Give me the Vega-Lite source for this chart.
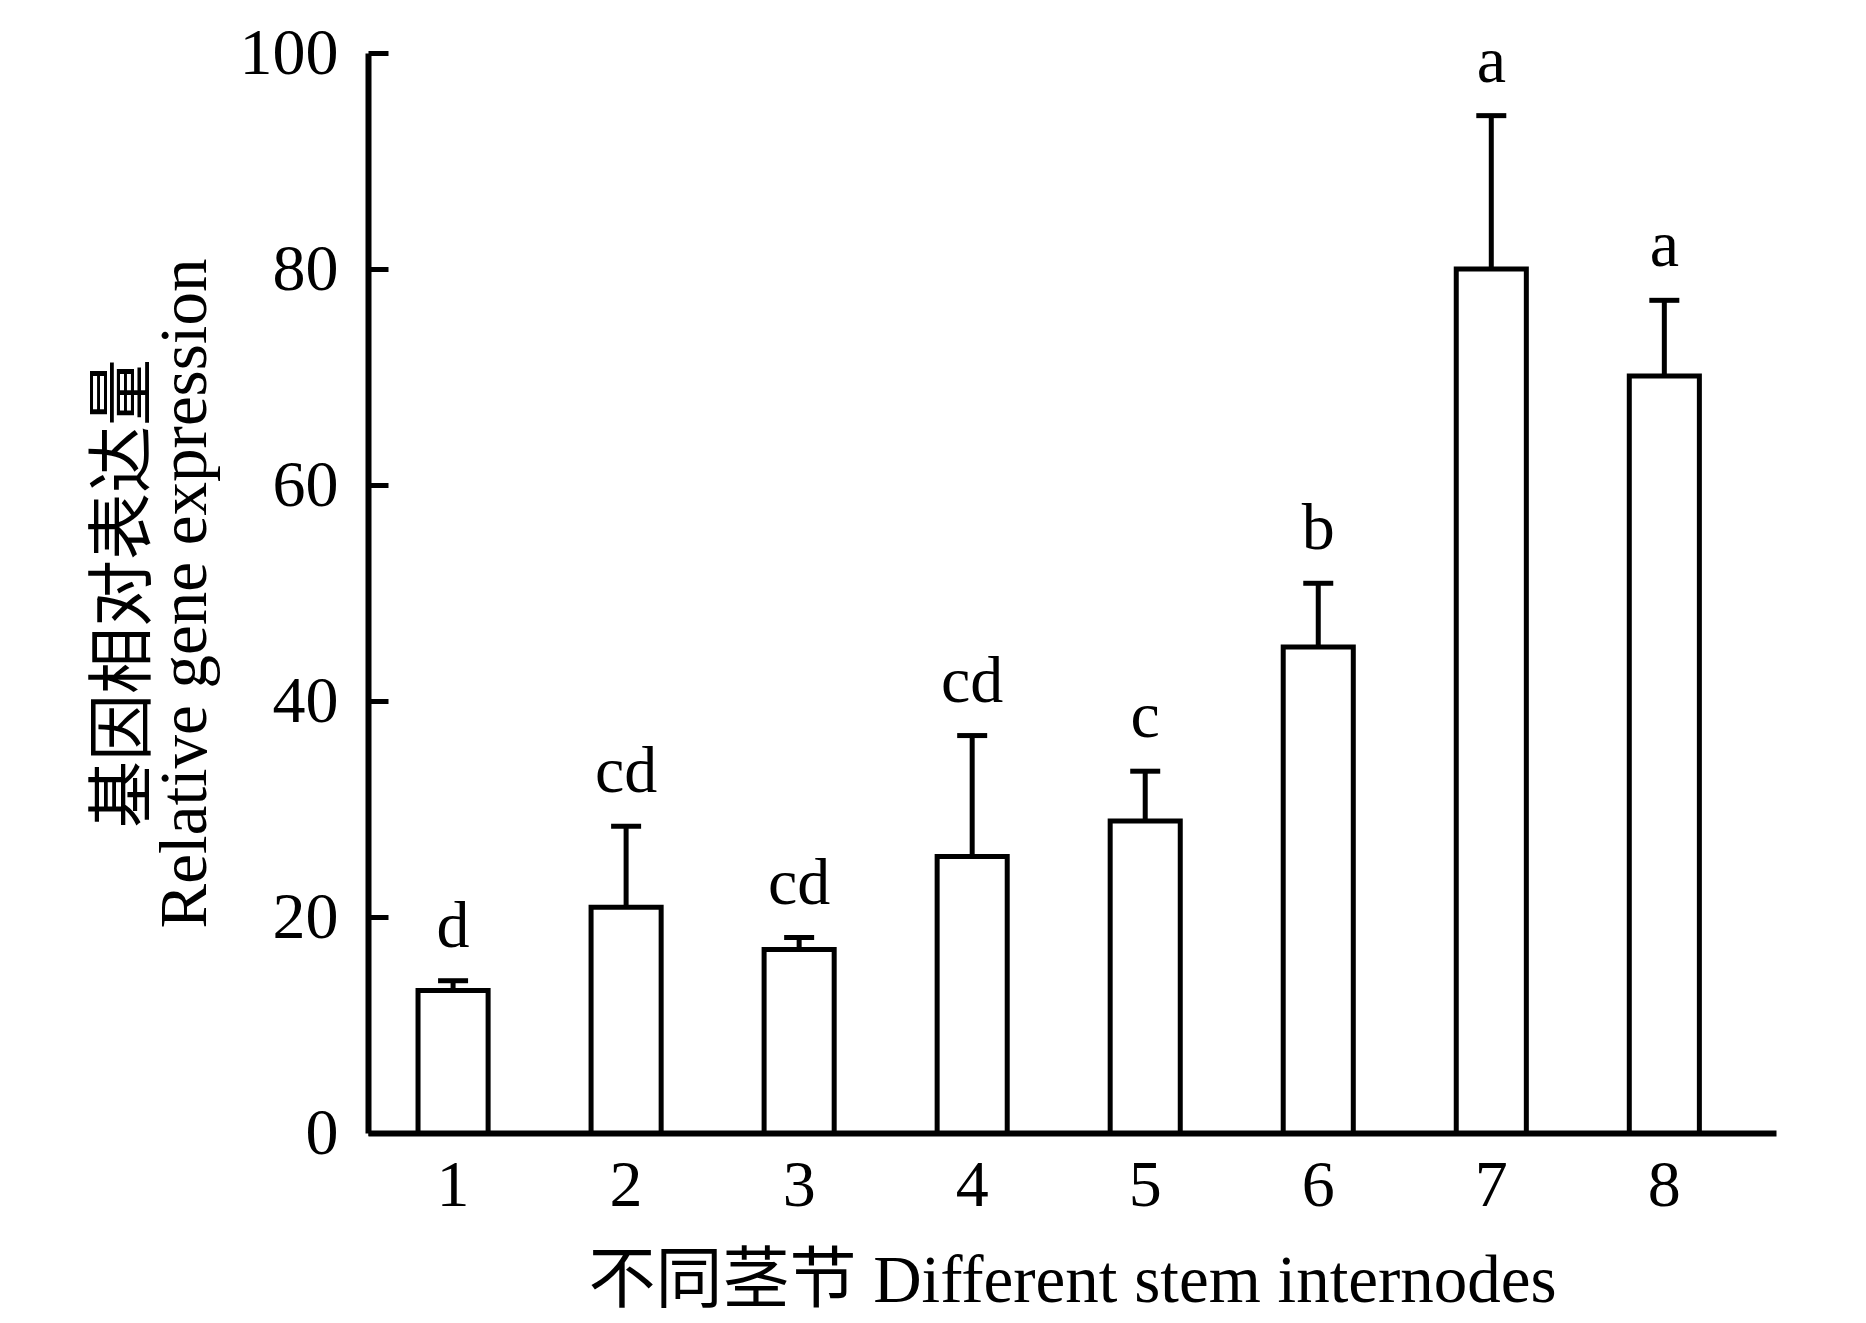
{
  "$schema": "https://vega.github.io/schema/vega-lite/v6.json",
  "width": 1408,
  "height": 1080,
  "autosize": {"type": "none"},
  "padding": {"left": 368, "top": 53, "right": 90, "bottom": 190},
  "background": "white",
  "config": {
    "view": {"stroke": null},
    "font": "Liberation Serif, Noto Sans CJK SC",
    "axis": {
      "grid": false,
      "domainColor": "black",
      "domainWidth": 6,
      "tickColor": "black",
      "labelColor": "black",
      "titleColor": "black",
      "labelFont": "Liberation Serif",
      "labelFontSize": 66,
      "titleFont": "Liberation Serif, Noto Sans CJK SC",
      "titleFontSize": 67,
      "titleFontWeight": "normal"
    }
  },
  "data": {
    "values": [
      {"node": "1", "mean": 13.2, "upper": 14.1, "letter": "d"},
      {"node": "2", "mean": 20.9, "upper": 28.4, "letter": "cd"},
      {"node": "3", "mean": 17.0, "upper": 18.1, "letter": "cd"},
      {"node": "4", "mean": 25.6, "upper": 36.8, "letter": "cd"},
      {"node": "5", "mean": 28.9, "upper": 33.5, "letter": "c"},
      {"node": "6", "mean": 45.0, "upper": 50.9, "letter": "b"},
      {"node": "7", "mean": 80.0, "upper": 94.2, "letter": "a"},
      {"node": "8", "mean": 70.1, "upper": 77.1, "letter": "a"}
    ]
  },
  "encoding": {
    "x": {
      "field": "node",
      "type": "ordinal",
      "scale": {"paddingInner": 0.595, "paddingOuter": 0.366, "align": 0.395},
      "axis": {
        "title": "不同茎节 Different stem internodes",
        "labelAngle": 0,
        "ticks": false,
        "labelPadding": 20,
        "titlePadding": 30
      }
    }
  },
  "layer": [
    {
      "mark": {"type": "bar", "fill": "white", "stroke": "black", "strokeWidth": 5, "strokeJoin": "miter"},
      "encoding": {
        "y": {
          "field": "mean",
          "type": "quantitative",
          "scale": {"domain": [0, 100], "nice": false},
          "axis": {
            "values": [0, 20, 40, 60, 80, 100],
            "tickSize": -20,
            "tickWidth": 5,
            "labelPadding": 50,
            "title": ["基因相对表达量", "Relative gene expression"],
            "titleLineHeight": 61,
            "titlePadding": 20
          }
        }
      }
    },
    {
      "mark": {"type": "rule", "color": "black", "strokeWidth": 5},
      "encoding": {
        "y": {"field": "mean", "type": "quantitative"},
        "y2": {"field": "upper"}
      }
    },
    {
      "mark": {"type": "tick", "color": "black", "opacity": 1, "size": 30, "thickness": 5},
      "encoding": {
        "y": {"field": "upper", "type": "quantitative"}
      }
    },
    {
      "mark": {"type": "text", "baseline": "alphabetic", "dy": -34, "fontSize": 66, "font": "Liberation Serif", "color": "black"},
      "encoding": {
        "y": {"field": "upper", "type": "quantitative"},
        "text": {"field": "letter"}
      }
    }
  ]
}
